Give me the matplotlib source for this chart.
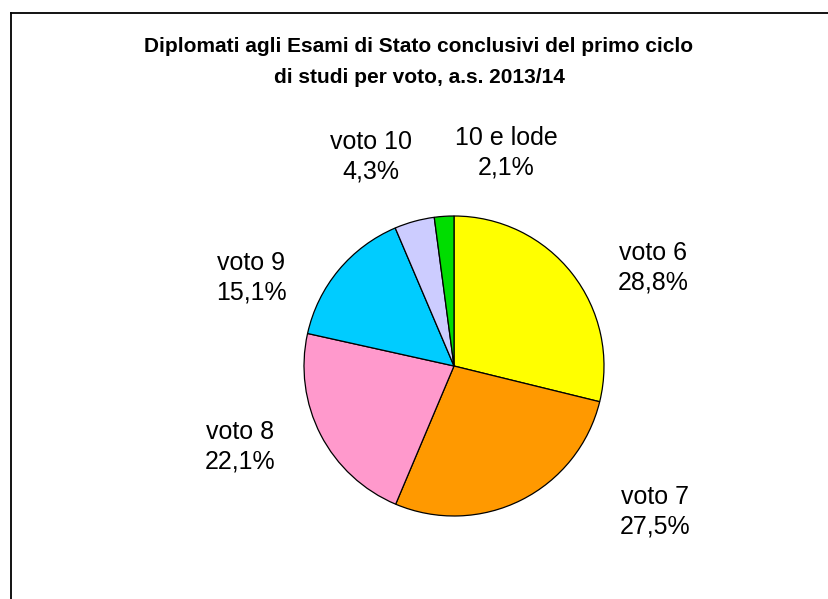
import matplotlib.pyplot as plt
from matplotlib.lines import Line2D

# dati
categorie = ["voto 6", "voto 7", "voto 8", "voto 9", "voto 10", "10 e lode"]
percentuali = [28.8, 27.5, 22.1, 15.1, 4.3, 2.1]
colori = ["#FFFF00", "#FF9900", "#FF99CC", "#00CCFF", "#CCCCFF", "#00DD00"]

W, H = 829, 599

# posizioni etichette (pixel dall'alto)
pos_etichette = [(653, 268), (655, 512), (240, 447), (251, 278), (371, 157), (506, 153)]

fig = plt.figure(figsize=(W / 100, H / 100), dpi=100)
ax = fig.add_axes([0, 0, 1, 1])
ax.set_aspect("equal")
ax.axis("off")

ax.pie(percentuali, colors=colori, startangle=90, counterclock=False,
       center=(454, H - 366), radius=150,
       wedgeprops=dict(edgecolor="black", linewidth=0.9))
ax.set_xlim(0, W)
ax.set_ylim(0, H)

for cat, p, (x, y) in zip(categorie, percentuali, pos_etichette):
    testo = cat + "\n" + ("%.1f" % p).replace(".", ",") + "%"
    ax.text(x, H - y, testo, ha="center", va="center", fontsize=18,
            family=["Liberation Sans", "DejaVu Sans"], linespacing=1.3)

fig.text(419 / W, 1 - 62 / H,
         "Diplomati agli Esami di Stato conclusivi del primo ciclo\ndi studi per voto, a.s. 2013/14",
         ha="center", va="center", fontsize=15, fontweight="bold",
         family=["Liberation Sans", "DejaVu Sans"], linespacing=1.75)

# cornice
fig.add_artist(Line2D([11 / W, 11 / W], [0, 1 - 13 / H], transform=fig.transFigure, color="black", lw=1.3))
fig.add_artist(Line2D([11 / W, 1], [1 - 13 / H, 1 - 13 / H], transform=fig.transFigure, color="black", lw=1.3))

fig.savefig("out.png", dpi=100, facecolor="white")
